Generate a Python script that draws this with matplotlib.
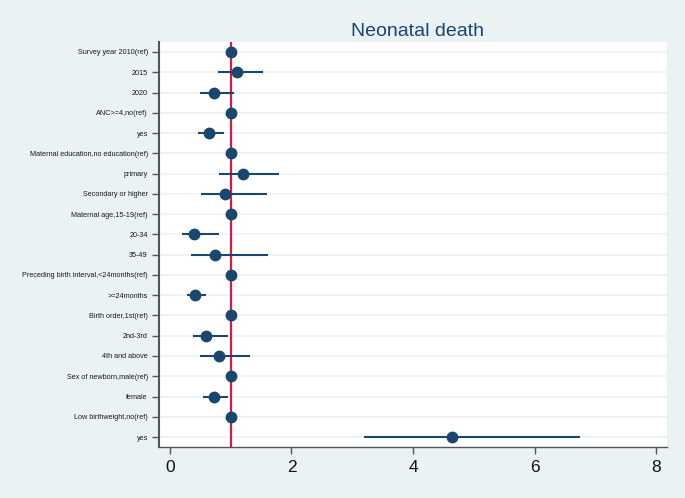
import numpy as np
import matplotlib
matplotlib.use("Agg")
import matplotlib.pyplot as plt

plt.rcParams['font.family'] = ['Liberation Sans', 'DejaVu Sans']

# 변수 이름
labels = [
    'Survey year 2010(ref)', '2015', '2020',
    'ANC>=4,no(ref)', 'yes',
    'Maternal education,no education(ref)', 'primary', 'Secondary or higher',
    'Maternal age,15-19(ref)', '20-34', '35-49',
    'Preceding birth interval,<24months(ref)', '>=24months',
    'Birth order,1st(ref)', '2nd-3rd', '4th and above',
    'Sex of newborn,male(ref)', 'female',
    'Low birthweight,no(ref)', 'yes',
]

# 오즈비와 95% 신뢰구간
odds = [1, 1.10, 0.72, 1, 0.64, 1, 1.20, 0.91, 1, 0.40, 0.74, 1, 0.41,
        1, 0.60, 0.80, 1, 0.72, 1, 4.64]
ci_low = [1, 0.79, 0.49, 1, 0.46, 1, 0.80, 0.51, 1, 0.20, 0.34, 1, 0.29,
          1, 0.38, 0.49, 1, 0.54, 1, 3.19]
ci_high = [1, 1.54, 1.06, 1, 0.89, 1, 1.79, 1.59, 1, 0.81, 1.62, 1, 0.60,
           1, 0.95, 1.31, 1, 0.95, 1, 6.74]

xticks = [0, 2, 4, 6, 8]

navy = '#1a476f'
bg = '#eaf2f3'

fig = plt.figure(figsize=(6.85, 4.98), dpi=100, facecolor=bg)
ax = fig.add_axes([0.232, 0.102, 0.742, 0.814])
ax.set_facecolor('white')

y = np.arange(len(labels))

# 격자선
for yy in y:
    ax.axhline(yy, color=bg, linewidth=1.2, zorder=0)

ax.axvline(1, color='#d41a45', linewidth=1.6, zorder=1)
ax.hlines(y, ci_low, ci_high, color=navy, linewidth=1.5, zorder=2)
ax.plot(odds, y, 'o', color=navy, markersize=7.5, zorder=3)

ax.set_ylim(19.5, -0.5)
ax.set_xlim(-0.18, 8.18)
ax.set_yticks(y)
ax.set_yticklabels(labels, fontsize=5.2, color='#1a1a1a')
ax.set_xticks(xticks)
ax.set_xticklabels([str(t) for t in xticks], fontsize=12.5, color='#111111')

ax.tick_params(axis='y', length=5, width=1, color='#555555', pad=3)
ax.tick_params(axis='x', length=5, width=1, color='#555555', pad=4)

for s in ['top', 'right']:
    ax.spines[s].set_visible(False)
ax.spines['left'].set_color('#555555')
ax.spines['left'].set_linewidth(1.5)
ax.spines['bottom'].set_color('#555555')
ax.spines['bottom'].set_linewidth(1)

fig.text(0.61, 0.937, 'Neonatal death', fontsize=14, color=navy, ha='center', va='center')

plt.savefig('out.png', dpi=100, facecolor=bg)
